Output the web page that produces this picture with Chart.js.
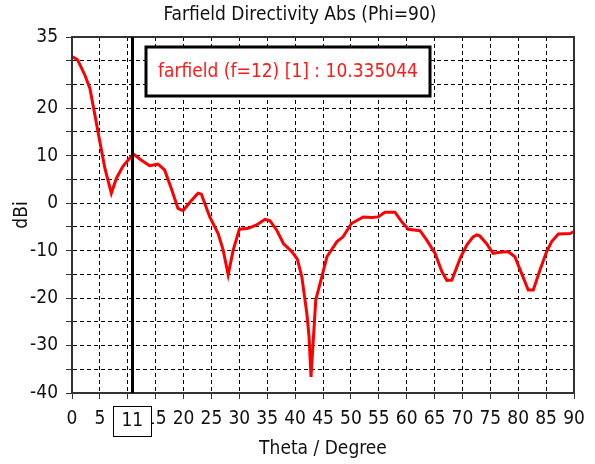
<!DOCTYPE html>
<html>
<head>
<meta charset="utf-8">
<script src="https://cdn.jsdelivr.net/npm/chart.js@4.4.0/dist/chart.umd.min.js"></script>
<style>
html,body{margin:0;padding:0;background:#fff;}
canvas{display:block;}
</style>
</head>
<body>
<canvas id="c" width="595" height="464"></canvas>
<script>
// ---- data ----
const theta = [0, 1, 2.3, 3.2, 4.1, 5, 5.9, 7.05, 7.95, 9.1, 10.3, 11, 12.4, 13.9, 15.4, 16.6, 17.8, 19, 19.9, 21.3, 22.6, 23.2, 24.7, 26.2, 27.1, 28, 28.9, 30, 31.6, 33.1, 34.6, 35.5, 36.7, 37.9, 39.4, 40.4, 41.2, 42.1, 42.5, 42.85, 43.3, 43.7, 44.8, 45.7, 47.5, 48.6, 50.1, 52.2, 53.7, 54.9, 56.1, 57.9, 59.1, 60.3, 62.4, 63.6, 65.1, 66.3, 67.2, 68.1, 69.6, 70.8, 71.9, 72.6, 73.1, 74.3, 75.5, 76.4, 78.2, 79.4, 80.6, 81.8, 82.7, 83.9, 85.1, 86, 87.2, 89.3, 90];
const dbi = [30.9, 30.2, 27, 24.2, 18.6, 12.9, 7.3, 2.1, 5.2, 7.7, 9.4, 10.335, 9.1, 7.9, 8.2, 7.0, 3.1, -1.1, -1.6, 0.4, 2.1, 1.9, -2.9, -6.4, -9.9, -15.1, -9.9, -5.5, -5.3, -4.6, -3.4, -3.7, -5.7, -8.5, -10.2, -11.8, -15.5, -23.2, -28.1, -36.6, -28.1, -20.4, -15.5, -11.3, -8.1, -7.1, -4.3, -2.9, -3.0, -2.9, -1.9, -1.9, -3.9, -5.5, -5.8, -7.8, -10.6, -14.4, -16.3, -16.2, -11.6, -8.8, -7.1, -6.7, -6.9, -8.5, -10.6, -10.4, -10.2, -11.3, -14.8, -18.3, -18.3, -14.1, -10.2, -8.1, -6.5, -6.4, -6.0];
const yLabels = [35, 20, 10, 0, -10, -20, -30, -40];
const markerTheta = 11;
const markerLabel = "11";
const legendText = "farfield (f=12) [1] : 10.335044";
const titleText = "Farfield Directivity Abs (Phi=90)";
const xTitle = "Theta / Degree";
const yTitle = "dBi";

const FONT = '"DejaVu Sans Condensed", "DejaVu Sans", sans-serif';
const FS = 19;

const overlay = {
  id: 'overlay',
  afterDatasetsDraw(chart) {
    const {ctx, chartArea: a, scales} = chart;
    ctx.save();
    // title
    ctx.font = FS + 'px ' + FONT;
    ctx.fillStyle = '#111';
    ctx.textAlign = 'center';
    ctx.textBaseline = 'middle';
    ctx.fillText(titleText, 300, 15);
    // frame
    ctx.strokeStyle = '#333';
    ctx.lineWidth = 2;
    ctx.strokeRect(a.left, a.top, a.right - a.left, a.bottom - a.top);
    // marker line
    const mx = Math.round(scales.x.getPixelForValue(markerTheta)) - 0.5;
    ctx.strokeStyle = '#000';
    ctx.lineWidth = 3;
    ctx.beginPath();
    ctx.moveTo(mx, a.top);
    ctx.lineTo(mx, a.bottom);
    ctx.stroke();
    // legend box
    const tw = ctx.measureText(legendText).width;
    const bx = 146, by = 47, bh = 49;
    const bw = Math.max(284, tw + 16);
    ctx.fillStyle = '#fff';
    ctx.fillRect(bx, by, bw, bh);
    ctx.lineWidth = 3;
    ctx.strokeStyle = '#000';
    ctx.strokeRect(bx, by, bw, bh);
    ctx.fillStyle = '#ff1a1a';
    ctx.fillText(legendText, bx + bw / 2, by + bh / 2 + 1);
    // marker label box on the x axis
    const lx = scales.x.getPixelForValue(markerTheta) - 1;
    ctx.fillStyle = '#fff';
    ctx.fillRect(lx - 19, 406, 38, 30);
    ctx.lineWidth = 1;
    ctx.strokeStyle = '#000';
    ctx.strokeRect(Math.round(lx - 19) + 0.5, 406.5, 38, 30);
    ctx.fillStyle = '#111';
    ctx.fillText(markerLabel, lx, 421);
    ctx.restore();
  }
};

new Chart(document.getElementById('c'), {
  type: 'line',
  data: {
    datasets: [{
      data: theta.map((t, i) => ({x: t, y: dbi[i]})),
      borderColor: '#ff0000',
      borderWidth: 3,
      pointRadius: 0,
      tension: 0,
      fill: false
    }]
  },
  options: {
    responsive: false,
    animation: false,
    devicePixelRatio: 1,
    layout: {padding: {top: 37, right: 21, bottom: 0, left: 0}},
    plugins: {
      legend: {display: false},
      tooltip: {enabled: false},
      title: {display: false}
    },
    scales: {
      x: {
        type: 'linear',
        min: 0, max: 90,
        afterFit(s) { s.height = 71; },
        ticks: {stepSize: 5, autoSkip: false, maxRotation: 0, color: '#111', padding: 9,
          font: {family: FONT, size: FS}},
        grid: {color: '#000', lineWidth: 1, tickLength: 6, tickColor: '#333'},
        border: {display: true, color: '#333', width: 2, dash: [4, 3]},
        title: {display: true, text: xTitle, color: '#111', padding: {top: 0, bottom: 3.6},
          font: {family: FONT, size: FS}}
      },
      y: {
        type: 'linear',
        min: -40, max: 35,
        afterFit(s) { s.width = 72; },
        ticks: {stepSize: 5, autoSkip: false, color: '#111', padding: 8,
          font: {family: FONT, size: FS},
          callback: v => yLabels.includes(v) ? String(v) : ''},
        grid: {color: '#000', lineWidth: 1, tickLength: 6, tickColor: '#333'},
        border: {display: true, color: '#333', width: 2, dash: [4, 3]},
        title: {display: true, text: yTitle, color: '#111', padding: {top: 10.6, bottom: 0},
          font: {family: FONT, size: FS}}
      }
    }
  },
  plugins: [overlay]
});
</script>
</body>
</html>
